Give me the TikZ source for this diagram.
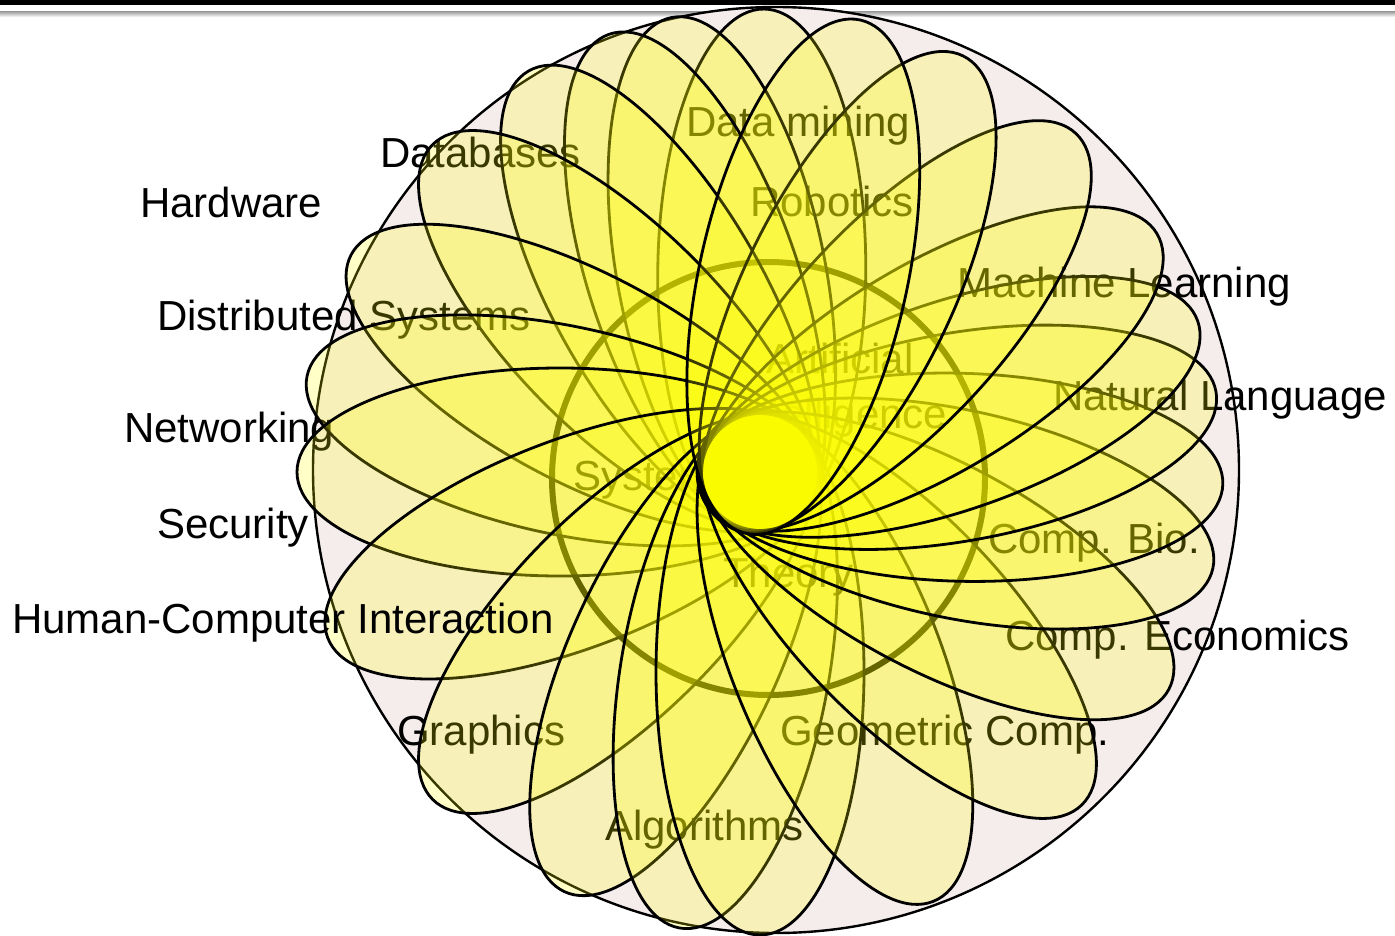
\documentclass[tikz,border=0pt]{standalone}
\usepackage{fontspec}
\setmainfont{Liberation Sans}
\definecolor{pinkbg}{RGB}{245,236,236}
\definecolor{petalyellow}{RGB}{255,255,0}
\definecolor{ink}{RGB}{0,0,0}
\begin{document}
\begin{tikzpicture}[x=1pt,y=-1pt,
  petal/.style={draw=ink, line width=2.8pt, fill=petalyellow, fill opacity=0.22},
  lbl/.style={anchor=base west, inner sep=0pt, font=\fontsize{42}{50}\selectfont, text=ink},
  ring/.style={draw=ink, line width=6pt}]
\useasboundingbox (0,0) rectangle (1395,936);
% top bar
\fill[ink] (0,0) rectangle (1395,5);
\shade[top color=gray!70, bottom color=white] (0,12) rectangle (1395,17);
% big circle
\draw[draw=ink, line width=2.4pt, fill=pinkbg] (776,470) circle (463);
% labels under the petals
\node[lbl] (hw) at (140,218) {Hardware};
\node[lbl] (db) at (380,168) {Databases};
\node[lbl] (dm) at (686,137) {Data mining};
\node[lbl] (rob) at (750,217) {Robotics};
\node[lbl] (ds) at (157,330) {Distributed Systems};
\node[lbl] (ml) at (957,297) {Machine Learning};
\node[lbl] (nl) at (1053,410) {Natural Language};
\node[lbl] (net) at (124,442) {Networking};
\node[lbl] (sec) at (157,538) {Security};
\node[lbl] (cb) at (988,553) {Comp. Bio.};
\node[lbl] (ce) at (1005,650) {Comp. Economics};
\node[lbl] (gr) at (397,745) {Graphics};
\node[lbl] (gc) at (780,745) {Geometric Comp.};
\node[lbl] (alg) at (605,840) {Algorithms};
% inner ring and its labels
\draw[ring] (768.5,478.5) circle (216.5);
\node[lbl, anchor=base] (ai1) at (840,373) {Artificial};
\node[lbl, anchor=base] (ai2) at (841,428) {Intelligence};
\node[lbl] (sys) at (573,490) {Systems};
\node[lbl] (th) at (723,587) {Theory};
% petals
\foreach \a in {89.5,101,109,120,135,152,168,180,-159,-135,-115,-100,-90,-68,-46,-28,-12,-1.5,10,19,31,47,64,77.5}
  \draw[petal, shift={(760,472)}, rotate=\a] (200,0) ellipse (263 and 104);
% label on top
\node[lbl] (hci) at (12,633) {Human-Computer Interaction};
\end{tikzpicture}
\end{document}
